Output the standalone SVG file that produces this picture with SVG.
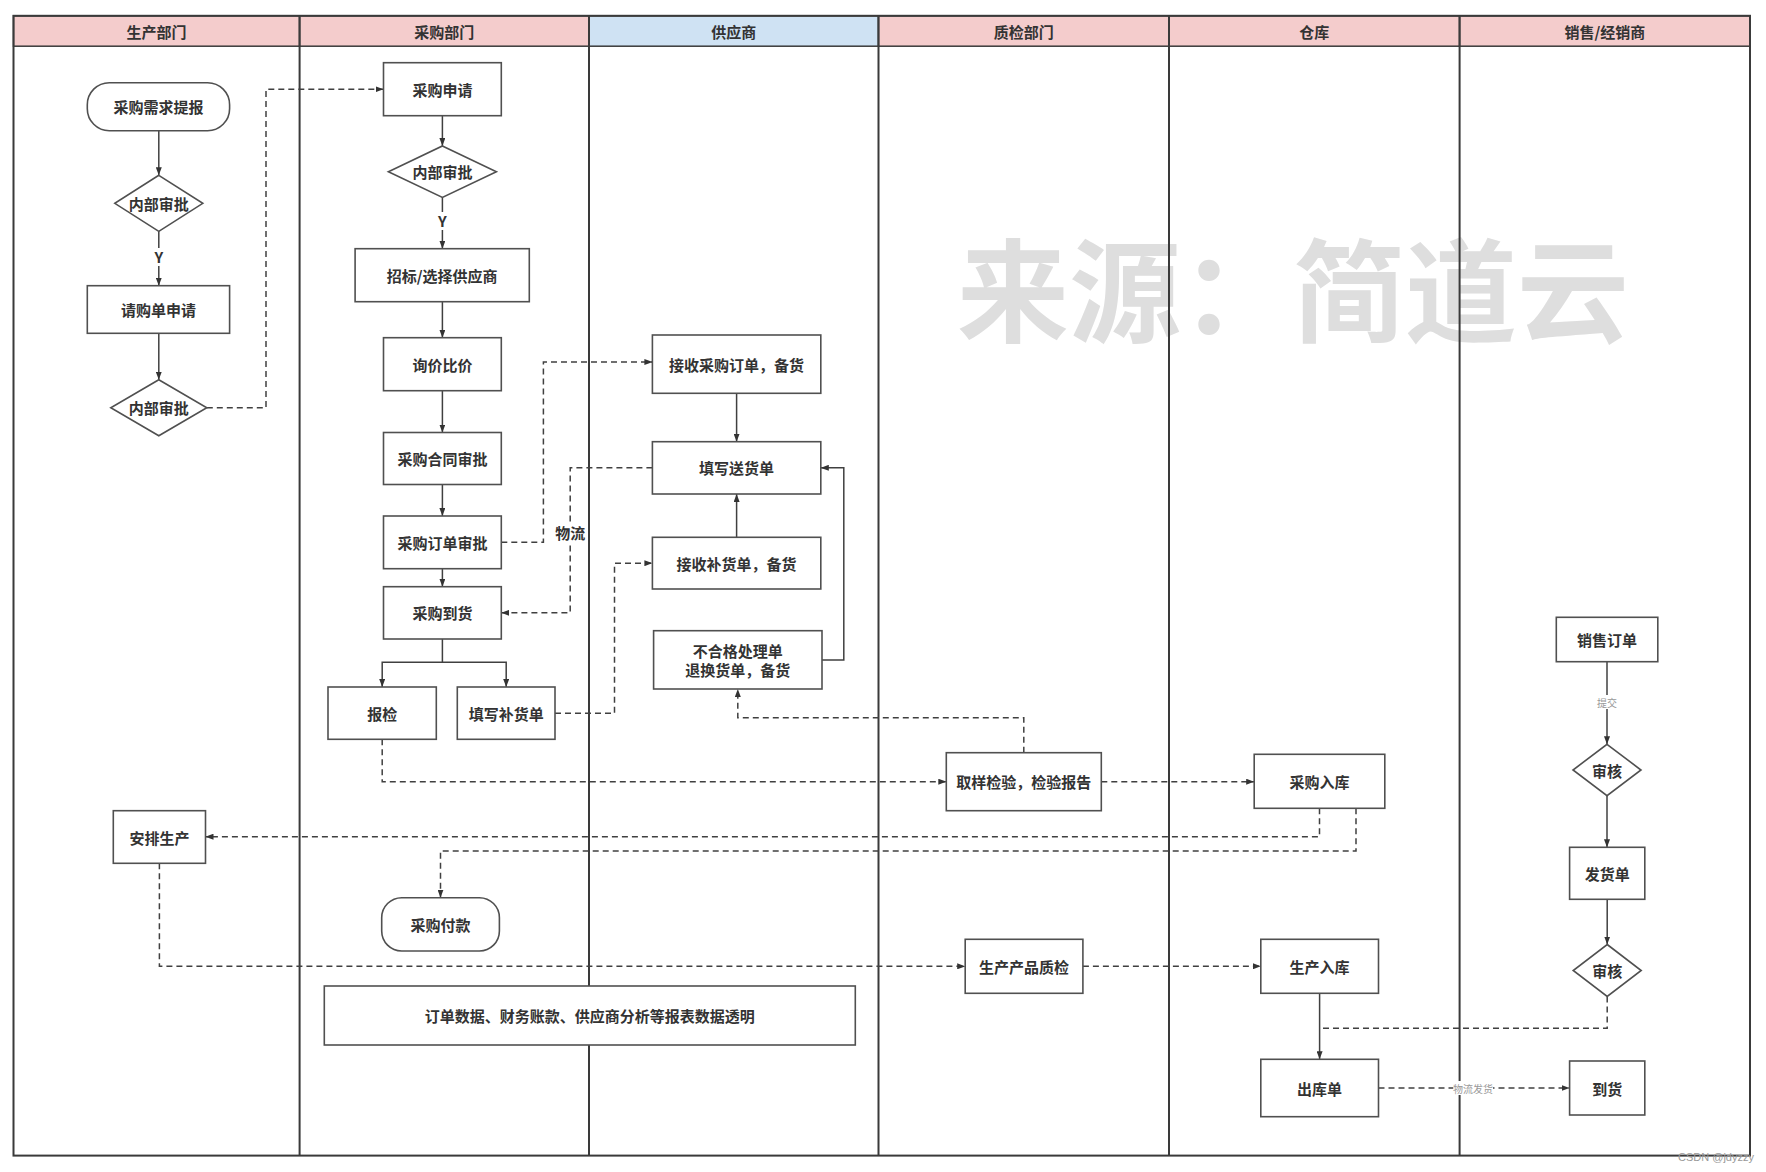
<svg xmlns="http://www.w3.org/2000/svg" width="1766" height="1172" viewBox="0 0 1766 1172">
<defs>
<style>
.bg{fill:#fff}
.lane{stroke:#3a3a3a;stroke-width:2;fill:none}
.hdr{fill:#f4cccc;stroke:#3a3a3a;stroke-width:1.5}
.hdrb{fill:#cfe2f3;stroke:#3a3a3a;stroke-width:1.5}
.box{fill:#fff;stroke:#505050;stroke-width:1.6}
.t{font-family:"Noto Sans CJK SC","Noto Sans",sans-serif;font-size:15px;font-weight:bold;fill:#333;text-anchor:middle;dominant-baseline:central}
.sm{font-family:"Noto Sans CJK SC","Noto Sans",sans-serif;font-size:10px;fill:#999;text-anchor:middle;dominant-baseline:central}
.wm{font-family:"Noto Sans CJK SC",sans-serif;font-size:112px;font-weight:bold;fill:#dedede}
.s{stroke:#404040;stroke-width:1.5;fill:none}
.d{stroke:#404040;stroke-width:1.5;fill:none;stroke-dasharray:6 4}
.lb{fill:#fff}
</style>
<marker id="ah" viewBox="0 0 8 6" refX="8" refY="3" markerWidth="8" markerHeight="6" markerUnits="userSpaceOnUse" orient="auto">
<path d="M0,0 L8,3 L0,6 z" fill="#333"/>
</marker>
</defs>
<rect class="bg" x="0" y="0" width="1766" height="1172"/>
<text class="wm" x="957" y="334">来源：简道云</text>
<g id="lanes">
<rect class="hdr" x="13.5" y="15.8" width="286.1" height="30.4"/>
<rect class="hdr" x="299.6" y="15.8" width="289.4" height="30.4"/>
<rect class="hdrb" x="589" y="15.8" width="289.5" height="30.4"/>
<rect class="hdr" x="878.5" y="15.8" width="290.5" height="30.4"/>
<rect class="hdr" x="1169" y="15.8" width="290.6" height="30.4"/>
<rect class="hdr" x="1459.6" y="15.8" width="290.4" height="30.4"/>
<rect class="lane" x="13.5" y="15.8" width="1736.5" height="1139.8"/>
<line class="lane" x1="299.6" y1="15.8" x2="299.6" y2="1155.6"/>
<line class="lane" x1="589" y1="15.8" x2="589" y2="1155.6"/>
<line class="lane" x1="878.5" y1="15.8" x2="878.5" y2="1155.6"/>
<line class="lane" x1="1169" y1="15.8" x2="1169" y2="1155.6"/>
<line class="lane" x1="1459.6" y1="15.8" x2="1459.6" y2="1155.6"/>
<text class="t" x="156.6" y="31">生产部门</text>
<text class="t" x="444.3" y="31">采购部门</text>
<text class="t" x="733.8" y="31">供应商</text>
<text class="t" x="1023.8" y="31">质检部门</text>
<text class="t" x="1314.3" y="31">仓库</text>
<text class="t" x="1604.8" y="31">销售/经销商</text>
</g>
<g id="connectors">
<path class="s" d="M158.8,130.7 V175.3" marker-end="url(#ah)"/>
<path class="s" d="M158.8,231.3 V285.7" marker-end="url(#ah)"/>
<rect class="lb" x="152" y="248" width="14" height="18"/>
<text class="t" x="158.8" y="256.7">Y</text>
<path class="s" d="M158.8,333.3 V379.7" marker-end="url(#ah)"/>
<path class="d" d="M206.8,407.7 H266 V89.2 H383.5" marker-end="url(#ah)"/>
<path class="s" d="M442.4,115.7 V146" marker-end="url(#ah)"/>
<path class="s" d="M442.4,197.4 V248.7" marker-end="url(#ah)"/>
<rect class="lb" x="435.5" y="212" width="14" height="18"/>
<text class="t" x="442.4" y="220.7">Y</text>
<path class="s" d="M442.4,301.7 V337.7" marker-end="url(#ah)"/>
<path class="s" d="M442.4,390.7 V432.5" marker-end="url(#ah)"/>
<path class="s" d="M442.4,484.5 V516" marker-end="url(#ah)"/>
<path class="s" d="M442.4,568.7 V586.7" marker-end="url(#ah)"/>
<path class="s" d="M442.4,639 V662.3 H382.2 V687" marker-end="url(#ah)"/>
<path class="s" d="M442.4,662.3 H506.2 V687" marker-end="url(#ah)"/>
<path class="d" d="M501.3,542.3 H543.4 V362 H652.4" marker-end="url(#ah)"/>
<path class="d" d="M652.4,467.8 H570.2 V612.8 H501.3" marker-end="url(#ah)"/>
<rect class="lb" x="555" y="522" width="31" height="20"/>
<text class="t" x="570.2" y="532">物流</text>
<path class="d" d="M555,713.2 H614.5 V563.2 H652.4" marker-end="url(#ah)"/>
<path class="s" d="M736.6,393.3 V441.7" marker-end="url(#ah)"/>
<path class="s" d="M736.6,537.3 V494" marker-end="url(#ah)"/>
<path class="s" d="M822,659.9 H843.8 V467.8 H820.8" marker-end="url(#ah)"/>
<path class="d" d="M1023.8,752.7 V717.7 H737.8 V689" marker-end="url(#ah)"/>
<path class="d" d="M382.2,739.3 V781.7 H946.3" marker-end="url(#ah)"/>
<path class="d" d="M1101.3,781.7 H1254.2" marker-end="url(#ah)"/>
<path class="d" d="M1319.5,808.3 V836.7 H205.5" marker-end="url(#ah)"/>
<path class="d" d="M1356,808.3 V851 H440.5 V897.7" marker-end="url(#ah)"/>
<path class="d" d="M159.4,863.3 V966.3 H965.2" marker-end="url(#ah)"/>
<path class="d" d="M1082.9,966.3 H1260.8" marker-end="url(#ah)"/>
<path class="s" d="M1319.6,993.3 V1059.3" marker-end="url(#ah)"/>
<path class="d" d="M1607.2,996.5 V1028.3 H1319.6"/>
<path class="d" d="M1378.5,1088 H1569.6" marker-end="url(#ah)"/>
<rect class="lb" x="1453" y="1081" width="40" height="14"/>
<text class="sm" x="1473" y="1088">物流发货</text>
<path class="s" d="M1607,661.7 V744.3" marker-end="url(#ah)"/>
<rect class="lb" x="1596" y="695" width="22" height="14"/>
<text class="sm" x="1607" y="702.3">提交</text>
<path class="s" d="M1607,795.7 V847.3" marker-end="url(#ah)"/>
<path class="s" d="M1607.2,899.3 V944.5" marker-end="url(#ah)"/>
</g>
<g id="n1"><rect class="box" x="87.3" y="82.7" width="142.3" height="48" rx="22"/><text class="t" x="158.5" y="106.7">采购需求提报</text></g>
<g id="n2"><polygon class="box" points="158.8,175.3 202.8,203.3 158.8,231.3 114.8,203.3"/><text class="t" x="158.8" y="203.3">内部审批</text></g>
<g id="n3"><rect class="box" x="87.3" y="285.7" width="142.3" height="47.6"/><text class="t" x="158.5" y="309.5">请购单申请</text></g>
<g id="n4"><polygon class="box" points="158.8,379.7 206.8,407.7 158.8,435.7 110.8,407.7"/><text class="t" x="158.8" y="407.7">内部审批</text></g>
<g id="n5"><rect class="box" x="383.5" y="62.7" width="117.8" height="53"/><text class="t" x="442.4" y="89.2">采购申请</text></g>
<g id="n6"><polygon class="box" points="442.4,146 496.4,171.7 442.4,197.4 388.4,171.7"/><text class="t" x="442.4" y="171.7">内部审批</text></g>
<g id="n7"><rect class="box" x="355.1" y="248.7" width="174.2" height="53"/><text class="t" x="442.2" y="275.2">招标/选择供应商</text></g>
<g id="n8"><rect class="box" x="383.5" y="337.7" width="117.8" height="53"/><text class="t" x="442.4" y="364.2">询价比价</text></g>
<g id="n9"><rect class="box" x="383.5" y="432.5" width="117.8" height="52"/><text class="t" x="442.4" y="458.5">采购合同审批</text></g>
<g id="n10"><rect class="box" x="383.5" y="516" width="117.8" height="52.7"/><text class="t" x="442.4" y="542.3">采购订单审批</text></g>
<g id="n11"><rect class="box" x="383.5" y="586.7" width="117.8" height="52.3"/><text class="t" x="442.4" y="612.8">采购到货</text></g>
<g id="n12"><rect class="box" x="328" y="687" width="108.3" height="52.3"/><text class="t" x="382.2" y="713.2">报检</text></g>
<g id="n13"><rect class="box" x="457.3" y="687" width="97.7" height="52.3"/><text class="t" x="506.2" y="713.2">填写补货单</text></g>
<g id="n14"><rect class="box" x="652.4" y="335" width="168.4" height="58.3"/><text class="t" x="736.6" y="364.2">接收采购订单，备货</text></g>
<g id="n15"><rect class="box" x="652.4" y="441.7" width="168.4" height="52.3"/><text class="t" x="736.6" y="467.8">填写送货单</text></g>
<g id="n16"><rect class="box" x="652.4" y="537.3" width="168.4" height="51.7"/><text class="t" x="736.6" y="563.2">接收补货单，备货</text></g>
<g id="n17"><rect class="box" x="653.6" y="630.7" width="168.4" height="58.3"/><text class="t" x="737.8" y="650">不合格处理单</text><text class="t" x="737.8" y="669.5">退换货单，备货</text></g>
<g id="n18"><rect class="box" x="946.3" y="752.7" width="155" height="58"/><text class="t" x="1023.8" y="781.7">取样检验，检验报告</text></g>
<g id="n19"><rect class="box" x="1254.2" y="754.3" width="130.6" height="54"/><text class="t" x="1319.5" y="781.5">采购入库</text></g>
<g id="n20"><rect class="box" x="113.3" y="810.7" width="92.2" height="52.6"/><text class="t" x="159.4" y="837">安排生产</text></g>
<g id="n21"><rect class="box" x="381.7" y="897.7" width="117.7" height="53.3" rx="20"/><text class="t" x="440.5" y="924.3">采购付款</text></g>
<g id="n22"><rect class="box" x="324.3" y="986" width="531" height="59"/><text class="t" x="589.8" y="1015.5">订单数据、财务账款、供应商分析等报表数据透明</text></g>
<g id="n23"><rect class="box" x="965.2" y="939.3" width="117.7" height="54"/><text class="t" x="1024" y="966.3">生产产品质检</text></g>
<g id="n24"><rect class="box" x="1260.8" y="939.3" width="117.7" height="54"/><text class="t" x="1319.6" y="966.3">生产入库</text></g>
<g id="n25"><rect class="box" x="1260.8" y="1059.3" width="117.7" height="57.4"/><text class="t" x="1319.6" y="1088">出库单</text></g>
<g id="n26"><rect class="box" x="1556.3" y="617.3" width="101.5" height="44.4"/><text class="t" x="1607" y="639.5">销售订单</text></g>
<g id="n27"><polygon class="box" points="1607,744.3 1641,770 1607,795.7 1573,770"/><text class="t" x="1607" y="770">审核</text></g>
<g id="n28"><rect class="box" x="1569.6" y="847.3" width="75.2" height="52"/><text class="t" x="1607.2" y="873.3">发货单</text></g>
<g id="n29"><polygon class="box" points="1607.2,944.5 1641.2,970.5 1607.2,996.5 1573.2,970.5"/><text class="t" x="1607.2" y="970.5">审核</text></g>
<g id="n30"><rect class="box" x="1569.6" y="1061" width="75.2" height="54"/><text class="t" x="1607.2" y="1088">到货</text></g>
<text x="1678" y="1161" style="font-family:'Liberation Sans',sans-serif;font-size:11px;fill:#999">CSDN @jdyzzy</text>
</svg>
